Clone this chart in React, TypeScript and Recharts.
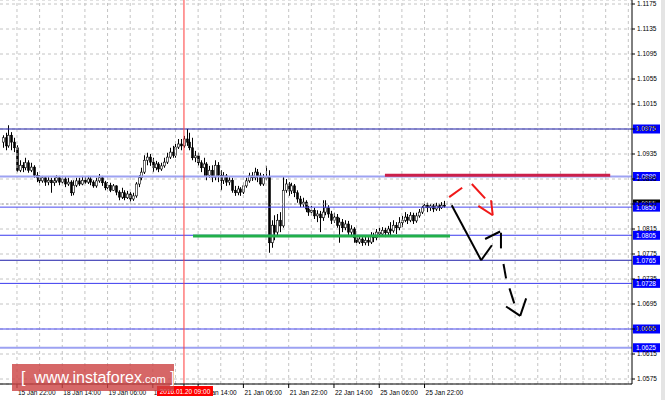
import {
  Bar,
  CartesianGrid,
  ComposedChart,
  ReferenceLine,
  XAxis,
  YAxis,
} from "recharts";

// EURUSD H1 candles, one row per hour starting 15 Jan ~17:00.
const opens = [
  1.0954, 1.0961, 1.0948, 1.0965, 1.0954, 1.0945, 1.0909, 1.0917, 1.0913, 1.0921,
  1.0909, 1.0914, 1.0901, 1.0897, 1.0892, 1.0897, 1.089, 1.0893, 1.0889, 1.0892,
  1.0897, 1.089, 1.0895, 1.0887, 1.089, 1.0873, 1.0885, 1.0892, 1.0887, 1.0893,
  1.089, 1.0895, 1.089, 1.0884, 1.0892, 1.0897, 1.0889, 1.0881, 1.0885, 1.0877,
  1.0884, 1.0874, 1.0866, 1.0873, 1.0865, 1.0871, 1.0863, 1.0868, 1.0887, 1.0897,
  1.0906, 1.0925, 1.093, 1.0922, 1.0913, 1.0919, 1.0911, 1.0916, 1.0922, 1.093,
  1.0938, 1.0933, 1.0946, 1.0951, 1.0948, 1.0959, 1.0954, 1.0945, 1.0929, 1.0932,
  1.0921, 1.0913, 1.0919, 1.0901, 1.0909, 1.0898, 1.0917, 1.0901, 1.0893, 1.09,
  1.089, 1.0893, 1.0877, 1.0873, 1.0879, 1.0874, 1.0884, 1.0892, 1.09, 1.0897,
  1.0906, 1.09, 1.0887, 1.0897, 1.0898, 1.0793, 1.0821, 1.081, 1.0829, 1.082,
  1.0877, 1.0887, 1.0876, 1.0884, 1.0873, 1.0863, 1.0855, 1.0858, 1.0847, 1.0842,
  1.0845, 1.0836, 1.0839, 1.0833, 1.0842, 1.0849, 1.0839, 1.0829, 1.0834, 1.0821,
  1.0826, 1.0817, 1.0823, 1.081, 1.0815, 1.0801, 1.0794, 1.0799, 1.0793, 1.0797,
  1.0794, 1.0804, 1.0801, 1.081, 1.0807, 1.0813, 1.0809, 1.0815, 1.0812, 1.0821,
  1.0817, 1.0825, 1.0829, 1.0834, 1.0829, 1.0837, 1.0828, 1.0836, 1.0842, 1.0849,
  1.0853, 1.0849, 1.0852, 1.0847, 1.0852, 1.0849, 1.0853,
];
const highs = [
  1.0965, 1.0969, 1.0981, 1.097, 1.0961, 1.0949, 1.0925, 1.0922, 1.0929, 1.0925,
  1.0921, 1.0917, 1.0906, 1.0901, 1.09, 1.0898, 1.0898, 1.0897, 1.0897, 1.0901,
  1.09, 1.09, 1.0898, 1.0897, 1.0893, 1.0893, 1.0897, 1.0897, 1.09, 1.0898,
  1.09, 1.0898, 1.0893, 1.0897, 1.0903, 1.09, 1.0892, 1.089, 1.0889, 1.0887,
  1.0885, 1.0877, 1.0881, 1.0877, 1.0876, 1.0874, 1.0873, 1.089, 1.0901, 1.0913,
  1.0933, 1.0937, 1.0935, 1.0929, 1.0924, 1.0922, 1.0921, 1.0929, 1.0937, 1.0945,
  1.0948, 1.0951, 1.0959, 1.0959, 1.0964, 1.0975, 1.0969, 1.0961, 1.094, 1.0937,
  1.0925, 1.0929, 1.0922, 1.0916, 1.0917, 1.0925, 1.0922, 1.0909, 1.0906, 1.0903,
  1.0898, 1.0897, 1.0884, 1.0884, 1.0882, 1.0889, 1.0897, 1.0905, 1.0906, 1.0913,
  1.0911, 1.0905, 1.0903, 1.0916, 1.0909, 1.0829, 1.0837, 1.0839, 1.0842, 1.0898,
  1.0895, 1.089, 1.0889, 1.0887, 1.0877, 1.0868, 1.0865, 1.0861, 1.0852, 1.0852,
  1.0849, 1.0845, 1.0844, 1.0861, 1.0861, 1.0853, 1.0844, 1.0841, 1.0839, 1.0833,
  1.0831, 1.0829, 1.0828, 1.0821, 1.0818, 1.0805, 1.0804, 1.0802, 1.0804, 1.0802,
  1.081, 1.0809, 1.0815, 1.0817, 1.0818, 1.0817, 1.082, 1.0826, 1.0829, 1.0826,
  1.0834, 1.0836, 1.0842, 1.0839, 1.0842, 1.0841, 1.0841, 1.0847, 1.0852, 1.0858,
  1.0857, 1.0855, 1.0855, 1.0857, 1.0855, 1.0858, 1.086,
];
const lows = [
  1.0945, 1.0941, 1.0945, 1.0941, 1.0938, 1.0906, 1.0906, 1.0906, 1.0909, 1.0905,
  1.0906, 1.0897, 1.089, 1.0885, 1.0889, 1.0884, 1.0885, 1.0873, 1.0884, 1.0889,
  1.0885, 1.0887, 1.0882, 1.0884, 1.0868, 1.0869, 1.0882, 1.0884, 1.0885, 1.0887,
  1.0887, 1.0885, 1.0881, 1.0881, 1.0889, 1.0884, 1.0877, 1.0877, 1.0874, 1.0876,
  1.0869, 1.0861, 1.0863, 1.0861, 1.0863, 1.0858, 1.086, 1.0865, 1.0882, 1.0893,
  1.0903, 1.0917, 1.0916, 1.0906, 1.0909, 1.0906, 1.0908, 1.0913, 1.0919, 1.0927,
  1.0929, 1.0929, 1.0943, 1.0941, 1.0945, 1.0948, 1.0941, 1.0925, 1.0922, 1.0916,
  1.0906, 1.09, 1.0893, 1.0897, 1.089, 1.0893, 1.089, 1.0877, 1.0887, 1.0884,
  1.0885, 1.0873, 1.0868, 1.0869, 1.0868, 1.0871, 1.0881, 1.0889, 1.0892, 1.0893,
  1.089, 1.0884, 1.0884, 1.0893, 1.0777, 1.0785, 1.0797, 1.0804, 1.081, 1.0817,
  1.0873, 1.0868, 1.0871, 1.0866, 1.0857, 1.085, 1.085, 1.0842, 1.0836, 1.0837,
  1.0831, 1.0826, 1.081, 1.0828, 1.0837, 1.0833, 1.0823, 1.0825, 1.0817, 1.0793,
  1.081, 1.0813, 1.0804, 1.0805, 1.0793, 1.0789, 1.0791, 1.0788, 1.0789, 1.0788,
  1.0791, 1.0794, 1.0797, 1.0802, 1.0804, 1.0802, 1.0805, 1.0804, 1.0809, 1.0807,
  1.0813, 1.0818, 1.0826, 1.0823, 1.0826, 1.0823, 1.0825, 1.0833, 1.0839, 1.0845,
  1.0842, 1.0844, 1.0842, 1.0844, 1.0844, 1.0847, 1.0849,
];
const closes = [
  1.0961, 1.0948, 1.0965, 1.0954, 1.0945, 1.0909, 1.0917, 1.0913, 1.0921, 1.0909,
  1.0914, 1.0901, 1.0897, 1.0892, 1.0897, 1.089, 1.0893, 1.0889, 1.0892, 1.0897,
  1.089, 1.0895, 1.0887, 1.089, 1.0873, 1.0885, 1.0892, 1.0887, 1.0893, 1.089,
  1.0895, 1.089, 1.0884, 1.0892, 1.0897, 1.0889, 1.0881, 1.0885, 1.0877, 1.0884,
  1.0874, 1.0866, 1.0873, 1.0865, 1.0871, 1.0863, 1.0868, 1.0887, 1.0897, 1.0906,
  1.0925, 1.093, 1.0922, 1.0913, 1.0919, 1.0911, 1.0916, 1.0922, 1.093, 1.0938,
  1.0933, 1.0946, 1.0951, 1.0948, 1.0959, 1.0954, 1.0945, 1.0929, 1.0932, 1.0921,
  1.0913, 1.0919, 1.0901, 1.0909, 1.0898, 1.0917, 1.0901, 1.0893, 1.09, 1.089,
  1.0893, 1.0877, 1.0873, 1.0879, 1.0874, 1.0884, 1.0892, 1.09, 1.0897, 1.0906,
  1.09, 1.0887, 1.0897, 1.0898, 1.0793, 1.0821, 1.081, 1.0829, 1.082, 1.0877,
  1.0887, 1.0876, 1.0884, 1.0873, 1.0863, 1.0855, 1.0858, 1.0847, 1.0842, 1.0845,
  1.0836, 1.0839, 1.0833, 1.0842, 1.0849, 1.0839, 1.0829, 1.0834, 1.0821, 1.0826,
  1.0817, 1.0823, 1.081, 1.0815, 1.0801, 1.0794, 1.0799, 1.0793, 1.0797, 1.0794,
  1.0804, 1.0801, 1.081, 1.0807, 1.0813, 1.0809, 1.0815, 1.0812, 1.0821, 1.0817,
  1.0825, 1.0829, 1.0834, 1.0829, 1.0837, 1.0828, 1.0836, 1.0842, 1.0849, 1.0853,
  1.0849, 1.0852, 1.0847, 1.0852, 1.0849, 1.0853, 1.0852,
];

// hour index of each time label on the bottom axis
const xTicks = [5, 21, 37, 53, 69, 85, 101, 117, 133, 149];
const xTickLabels = [
  "15 Jan 22:00", "18 Jan 14:00", "19 Jan 06:00", "19 Jan 22:00", "20 Jan 14:00",
  "21 Jan 06:00", "21 Jan 22:00", "22 Jan 14:00", "25 Jan 06:00", "25 Jan 22:00",
];
const gridHours = [5, 13, 21, 29, 37, 45, 53, 61, 69, 77, 85, 93, 101, 109, 117, 125, 133, 141, 149, 157, 165, 173, 181, 189, 197, 205, 213, 221];
const yTicks = [
  1.1175, 1.1135, 1.1095, 1.1055, 1.1015, 1.0975, 1.0935, 1.0895,
  1.0855, 1.0815, 1.0775, 1.0735, 1.0695, 1.0655, 1.0615, 1.0575,
];

// marked levels, with the tag on the price scale
const levels = [
  { price: 1.0975, color: "#1c1ca8", width: 1 },
  { price: 1.0899, color: "#9da2f2", width: 2 },
  { price: 1.085, color: "#4a4af0", width: 1 },
  { price: 1.0805, color: "#3a3aee", width: 1 },
  { price: 1.0765, color: "#1c1ca8", width: 1 },
  { price: 1.0728, color: "#3a3aee", width: 1 },
  { price: 1.0655, color: "#4a4af0", width: 1 },
  { price: 1.0625, color: "#9da2f2", width: 2 },
];
const bidPrice = 1.0855;
const crosshairHour = 64;
const crosshairLabel = "2016.01.20 09:00";

// drawn analysis: [hour, price] points
const resistance = { from: 135, to: 214.6, price: 1.0901 };
const support = { from: 67.2, to: 158, price: 1.0804 };
const strokes = [
  { color: "#000", pts: [[158.6, 1.0853], [169.0, 1.0765], [172.8, 1.0789]] },
  { color: "#000", pts: [[170.4, 1.0799], [175.7, 1.0811]] },
  { color: "#000", pts: [[176.0, 1.0809], [176.0, 1.0784]] },
  { color: "#000", pts: [[176.9, 1.0759], [177.8, 1.0736]] },
  { color: "#000", pts: [[179.0, 1.072], [180.7, 1.0696]] },
  { color: "#000", pts: [[177.8, 1.0691], [182.8, 1.0676], [184.9, 1.0704]] },
  { color: "#f01818", pts: [[157.7, 1.0866], [162.3, 1.0881]] },
  { color: "#f01818", pts: [[165.7, 1.0887], [170.4, 1.0864]] },
  { color: "#f01818", pts: [[168.0, 1.0852], [173.1, 1.0837], [172.5, 1.0861]] },
];

const data = closes.map((c, i) => ({
  i,
  o: opens[i],
  h: highs[i],
  l: lows[i],
  c,
  range: [lows[i], highs[i]],
}));

const FONT = "Liberation Sans, Arial, sans-serif";

function Candle(props: any) {
  const { x, y, width, height, payload } = props;
  const { o, h, l, c } = payload;
  const top = Math.min(y, y + height);
  const hh = Math.abs(height);
  const cx = Math.round(x + width / 2) + 0.5;
  const span = h - l || 1;
  const py = (v: number) => top + ((h - v) / span) * hh;
  const bTop = py(Math.max(o, c));
  const bBot = py(Math.min(o, c));
  const up = c >= o;
  return (
    <g>
      <line x1={cx} x2={cx} y1={top} y2={top + hh} stroke="#000" strokeWidth={1} />
      <rect
        x={cx - 1}
        y={bTop}
        width={2}
        height={Math.max(bBot - bTop, 1)}
        fill={up ? "#fff" : "#000"}
        stroke="#000"
        strokeWidth={0.6}
      />
    </g>
  );
}

// time labels start at their tick; the crosshair time is the last tick so it draws on top
function XTick(props: any) {
  const { x, y, payload } = props;
  if (payload.value === crosshairHour) {
    return (
      <g>
        <rect x={x - 27} y={y - 4} width={56} height={10} fill="#ff0000" />
        <text x={x + 1} y={y + 3.6} fontSize={6.5} fontFamily={FONT} fill="#fff" textAnchor="middle">
          {crosshairLabel}
        </text>
      </g>
    );
  }
  const idx = xTicks.indexOf(payload.value);
  return (
    <text x={x + 1} y={y} dy="0.71em" fontSize={6.5} fontFamily={FONT} fill="#000" textAnchor="start">
      {xTickLabels[idx]}
    </text>
  );
}

function PriceTag({ viewBox, text, fill }: any) {
  if (!viewBox) return null;
  const x = viewBox.x + viewBox.width + 1;
  const y = viewBox.y;
  return (
    <g>
      <rect x={x} y={y - 4.5} width={27} height={9} fill={fill} />
      <text x={x + 3} y={y + 2.4} fontSize={6.5} fontFamily={FONT} fill="#fff">
        {text}
      </text>
    </g>
  );
}

export default function App() {
  return (
    <div style={{ position: "relative", width: 665, height: 400, background: "#fff" }}>
      <style>{"body{margin:0}"}</style>
      <ComposedChart
        width={665}
        height={400}
        data={data}
        margin={{ top: 0, right: 0, bottom: 0, left: 0 }}
      >
        <CartesianGrid vertical={false} stroke="#c4c4c4" strokeDasharray="3 3" />
        <XAxis
          type="number"
          dataKey="i"
          domain={[-1, 222.3]}
          allowDataOverflow
          ticks={[...xTicks, crosshairHour]}
          interval={0}
          height={16}
          tickSize={4}
          tickMargin={2}
          tick={<XTick />}
          axisLine={{ stroke: "#000" }}
          tickLine={{ stroke: "#000" }}
        />
        <YAxis
          orientation="right"
          type="number"
          domain={[1.0567, 1.11814]}
          allowDataOverflow
          ticks={yTicks}
          interval={0}
          width={33}
          tickSize={3}
          tickMargin={2}
          tickFormatter={(v: number) => v.toFixed(4)}
          tick={{ fontSize: 6.5, fill: "#000", fontFamily: FONT, textAnchor: "start" }}
          axisLine={{ stroke: "#000" }}
          tickLine={{ stroke: "#000" }}
        />
        {gridHours.map((h) => (
          <ReferenceLine key={"g" + h} x={h} stroke="#c4c4c4" strokeDasharray="3 3" />
        ))}
        <ReferenceLine
          y={bidPrice}
          stroke="#a8a8a8"
          strokeDasharray="2 2"
          label={<PriceTag text={bidPrice.toFixed(4)} fill="#000" />}
        />
        {levels.map((lv) => (
          <ReferenceLine
            key={lv.price}
            y={lv.price}
            stroke={lv.color}
            strokeWidth={lv.width}
            label={<PriceTag text={lv.price.toFixed(4)} fill="#0000ff" />}
          />
        ))}
        <ReferenceLine x={crosshairHour} stroke="#ff3a3a" strokeWidth={1} />
        <Bar dataKey="range" barSize={3} shape={<Candle />} isAnimationActive={false} />
        <ReferenceLine
          segment={[
            { x: support.from, y: support.price },
            { x: support.to, y: support.price },
          ]}
          stroke="#22b04a"
          strokeWidth={3}
        />
        <ReferenceLine
          segment={[
            { x: resistance.from, y: resistance.price },
            { x: resistance.to, y: resistance.price },
          ]}
          stroke="#cc1f4a"
          strokeWidth={3}
        />
        {strokes.flatMap((s, si) =>
          s.pts.slice(1).map((p, k) => (
            <ReferenceLine
              key={`s${si}-${k}`}
              segment={[
                { x: s.pts[k][0], y: s.pts[k][1] },
                { x: p[0], y: p[1] },
              ]}
              stroke={s.color}
              strokeWidth={2}
            />
          ))
        )}
      </ComposedChart>
      <div
        style={{
          position: "absolute",
          left: 12,
          top: 364,
          width: 162,
          height: 27,
          background: "rgba(205, 70, 70, 0.82)",
          color: "#fff",
          fontFamily: FONT,
          fontSize: 16,
          lineHeight: "27px",
          whiteSpace: "nowrap",
          boxSizing: "border-box",
          paddingLeft: 9,
        }}
      >
        [&nbsp;&nbsp;www.instaforex<span style={{ fontSize: 11 }}>.com</span> ]
      </div>
      <div
        style={{
          position: "absolute",
          left: 661,
          top: 0,
          width: 4,
          height: 400,
          background: "#e4e4e4",
        }}
      />
    </div>
  );
}
